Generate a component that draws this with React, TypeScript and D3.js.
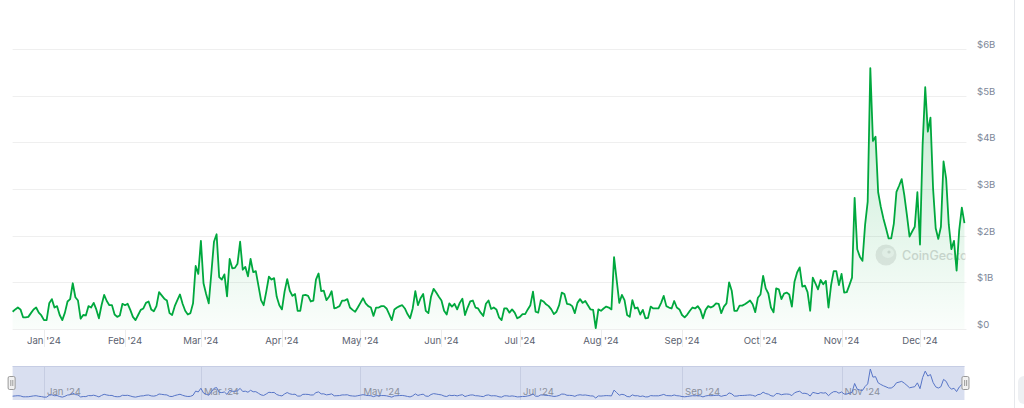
import * as d3 from "d3";

// Daily trading volume, USD billions, one value per day starting 20 Dec 2023
const volDec23 = [0.37, 0.42, 0.46, 0.42, 0.25, 0.25, 0.26, 0.34, 0.42, 0.46, 0.35, 0.29];
const volJan = [
  0.19, 0.19, 0.55, 0.64, 0.46, 0.49, 0.3, 0.19, 0.35, 0.59, 0.64, 0.98, 0.68, 0.61, 0.22, 0.3,
  0.29, 0.49, 0.46, 0.56, 0.42, 0.23, 0.51, 0.73, 0.6, 0.51, 0.51, 0.31, 0.26, 0.29, 0.54,
];
const volFeb = [
  0.51, 0.54, 0.41, 0.26, 0.19, 0.3, 0.41, 0.44, 0.56, 0.59, 0.42, 0.38, 0.49, 0.79, 0.72, 0.65,
  0.61, 0.34, 0.3, 0.49, 0.62, 0.74, 0.54, 0.39, 0.31, 0.34, 0.55, 1.35, 1.18,
];
const volMar = [
  1.89, 0.98, 0.75, 0.55, 1.2, 1.87, 2.03, 1.11, 1.06, 1.17, 0.7, 1.5, 1.3, 1.31, 1.4, 1.87,
  1.27, 1.33, 1.13, 1.5, 1.22, 1.24, 0.93, 0.62, 0.51, 0.8, 1.12, 1.06, 1.09, 0.69, 0.51,
];
const volApr = [
  0.42, 0.8, 1.07, 0.82, 0.71, 0.75, 0.39, 0.39, 0.72, 0.73, 0.71, 0.59, 0.61, 1.06, 1.19, 0.81,
  0.82, 0.62, 0.69, 0.81, 0.44, 0.46, 0.49, 0.61, 0.61, 0.64, 0.46, 0.41, 0.37, 0.46,
];
const volMay = [
  0.56, 0.66, 0.55, 0.49, 0.46, 0.28, 0.46, 0.46, 0.49, 0.49, 0.44, 0.32, 0.19, 0.42, 0.46, 0.49,
  0.51, 0.44, 0.32, 0.23, 0.44, 0.81, 0.51, 0.66, 0.75, 0.39, 0.34, 0.69, 0.86, 0.78, 0.69,
];
const volJun = [
  0.61, 0.39, 0.31, 0.55, 0.48, 0.54, 0.42, 0.56, 0.65, 0.3, 0.46, 0.59, 0.61, 0.46, 0.44, 0.35,
  0.28, 0.54, 0.61, 0.43, 0.46, 0.42, 0.25, 0.19, 0.44, 0.44, 0.35, 0.42, 0.35, 0.23,
];
const volJul = [
  0.26, 0.32, 0.32, 0.42, 0.51, 0.8, 0.37, 0.35, 0.62, 0.59, 0.53, 0.49, 0.42, 0.32, 0.37, 0.51,
  0.78, 0.75, 0.54, 0.53, 0.49, 0.34, 0.56, 0.64, 0.56, 0.6, 0.51, 0.42, 0.41, 0.02, 0.42,
];
const volAug = [
  0.39, 0.44, 0.48, 0.46, 0.42, 1.54, 1.05, 0.56, 0.73, 0.62, 0.3, 0.26, 0.62, 0.44, 0.46, 0.31,
  0.41, 0.23, 0.24, 0.48, 0.44, 0.44, 0.44, 0.56, 0.71, 0.49, 0.46, 0.44, 0.6, 0.46, 0.42,
];
const volSep = [
  0.3, 0.25, 0.31, 0.39, 0.46, 0.44, 0.49, 0.41, 0.23, 0.41, 0.49, 0.46, 0.49, 0.55, 0.54, 0.34,
  0.48, 0.55, 1.0, 0.82, 0.39, 0.39, 0.5, 0.5, 0.53, 0.57, 0.61, 0.53, 0.36, 0.67,
];
const volOct = [
  0.74, 1.14, 0.87, 0.76, 0.46, 0.36, 0.87, 0.85, 0.64, 0.76, 0.78, 0.74, 0.48, 1.01, 1.21, 1.32,
  0.91, 0.93, 0.79, 0.39, 1.1, 0.98, 0.85, 1.05, 0.96, 1.03, 0.46, 0.94, 1.24, 1.24, 0.94,
];
const volNov = [
  1.18, 0.78, 0.79, 0.94, 1.1, 2.81, 1.71, 1.55, 1.46, 2.23, 2.73, 5.59, 4.03, 4.12, 2.93, 2.62,
  2.37, 2.16, 1.94, 1.94, 2.26, 2.94, 3.07, 3.21, 2.87, 2.44, 1.98, 2.09, 2.19, 2.93,
];
const volDec24 = [
  1.81, 3.94, 5.18, 4.23, 4.53, 3.01, 2.16, 1.93, 2.19, 3.59, 3.22, 2.24, 1.71, 1.89, 1.25, 2.12,
  2.6, 2.27,
];

const yTicks = [0, 1, 2, 3, 4, 5, 6];
const yTickLabels = ["$0", "$1B", "$2B", "$3B", "$4B", "$5B", "$6B"];

const START = Date.UTC(2023, 11, 20);
const DAY = 86400000;

const volumes = [
  ...volDec23, ...volJan, ...volFeb, ...volMar, ...volApr, ...volMay, ...volJun,
  ...volJul, ...volAug, ...volSep, ...volOct, ...volNov, ...volDec24,
];
const data = volumes.map((v, i) => ({ date: new Date(START + i * DAY), v }));

const W = 1024;
const H = 408;
const FONT = "Inter, 'Liberation Sans', Arial, sans-serif";

export default function App() {
  const x = d3
    .scaleUtc()
    .domain([new Date(Date.UTC(2024, 0, 1)), new Date(Date.UTC(2024, 11, 1))])
    .range([44, 920]);
  const y = d3.scaleLinear().domain([0, 6]).range([329, 49]);

  const plotLeft = x(data[0].date);
  const plotRight = x(data[data.length - 1].date);

  const line = d3
    .line<{ date: Date; v: number }>()
    .x((d) => x(d.date))
    .y((d) => y(d.v));
  const area = d3
    .area<{ date: Date; v: number }>()
    .x((d) => x(d.date))
    .y0(y(0))
    .y1((d) => y(d.v));

  const monthTicks = d3.utcMonth.range(new Date(Date.UTC(2024, 0, 1)), new Date(Date.UTC(2024, 11, 2)));
  const fmt = d3.utcFormat("%b '%y");

  // navigator
  const navTop = 366;
  const navBottom = 400;
  const [vMin, vMax] = d3.extent(volumes) as [number, number];
  const yNav = d3.scaleLinear().domain([vMin, vMax]).range([398, 369]);
  const navLine = d3
    .line<{ date: Date; v: number }>()
    .x((d) => x(d.date))
    .y((d) => yNav(d.v));
  const navTicks = d3.utcMonth.every(2)!.range(new Date(Date.UTC(2024, 0, 1)), new Date(Date.UTC(2024, 11, 1)));

  const px = (v: number) => Math.round(v) + 0.5;

  const handle = (cx: number) => (
    <g key={cx}>
      <rect x={cx - 3.5} y={376.5} width={7} height={13} rx={1.5} fill="#f2f2f2" stroke="#999" strokeWidth={1} />
      <line x1={cx - 0.8} x2={cx - 0.8} y1={380} y2={386} stroke="#999" />
      <line x1={cx + 1.2} x2={cx + 1.2} y1={380} y2={386} stroke="#999" />
    </g>
  );

  return (
    <div style={{ position: "absolute", left: 0, top: 0 }}>
      <svg width={W} height={H} style={{ display: "block", background: "#fff" }}>
        <defs>
          <linearGradient id="volFill" gradientUnits="userSpaceOnUse" x1={0} y1={y(6)} x2={0} y2={y(0)}>
            <stop offset="0%" stopColor="#00a83e" stopOpacity={0.26} />
            <stop offset="100%" stopColor="#00a83e" stopOpacity={0.02} />
          </linearGradient>
          <clipPath id="plotClip">
            <rect x={plotLeft} y={0} width={plotRight - plotLeft + 1} height={330} />
          </clipPath>
        </defs>

        {/* horizontal grid */}
        {yTicks.map((t) => (
          <line key={t} x1={plotLeft} x2={plotRight + 2} y1={px(y(t))} y2={px(y(t))} stroke="#efefef" />
        ))}

        {/* x tick lines */}
        {monthTicks.map((t) => (
          <line key={+t} x1={px(x(t))} x2={px(x(t))} y1={330} y2={347} stroke="#ececec" />
        ))}

        {/* watermark */}
        <g clipPath="url(#plotClip)" opacity={0.9}>
          <circle cx={886} cy={255} r={10.5} fill="#e6e6e6" />
          <ellipse cx={888} cy={253} rx={6} ry={5} fill="#f3f3f3" />
          <circle cx={889} cy={252} r={1.6} fill="#d6d6d6" />
          <text x={902} y={259.5} fontFamily={FONT} fontSize={12.5} fontWeight={500} fill="#d4d4d4">
            CoinGecko
          </text>
        </g>

        {/* series */}
        <path d={area(data) ?? ""} fill="url(#volFill)" />
        <path d={line(data) ?? ""} fill="none" stroke="#00a83e" strokeWidth={1.8} strokeLinejoin="round" />

        {/* y labels */}
        {yTicks.map((t, i) => (
          <text key={t} x={977} y={y(t) - 1} fontFamily={FONT} fontSize={9.6} fill="#7d8799">
            {yTickLabels[i]}
          </text>
        ))}

        {/* x labels */}
        {monthTicks.map((t) => (
          <text key={+t} x={x(t)} y={344} textAnchor="middle" fontFamily={FONT} fontSize={9.6} fill="#5b6270">
            {fmt(t)}
          </text>
        ))}

        {/* navigator */}
        <rect x={plotLeft} y={navTop} width={plotRight - plotLeft} height={navBottom - navTop} fill="#d9dff0" />
        <line x1={plotLeft} x2={plotRight} y1={navTop + 0.5} y2={navTop + 0.5} stroke="#c6cde4" />
        {navTicks.map((t) => (
          <g key={+t}>
            <line x1={px(x(t))} x2={px(x(t))} y1={navTop} y2={navBottom} stroke="#c6cde2" />
            <text x={x(t) + 3} y={395} fontFamily={FONT} fontSize={9.6} fill="#8a8f9c">
              {fmt(t)}
            </text>
          </g>
        ))}
        <path d={navLine(data) ?? ""} fill="none" stroke="#5775c7" strokeWidth={1} />
        {handle(plotLeft - 1)}
        {handle(plotRight + 1)}

        {/* right panel edge */}
        <line x1={1014.5} x2={1014.5} y1={0} y2={H} stroke="#e6e8ec" />
        <rect x={1018} y={376} width={30} height={28} rx={6} fill="#eef0f3" />
      </svg>
    </div>
  );
}
